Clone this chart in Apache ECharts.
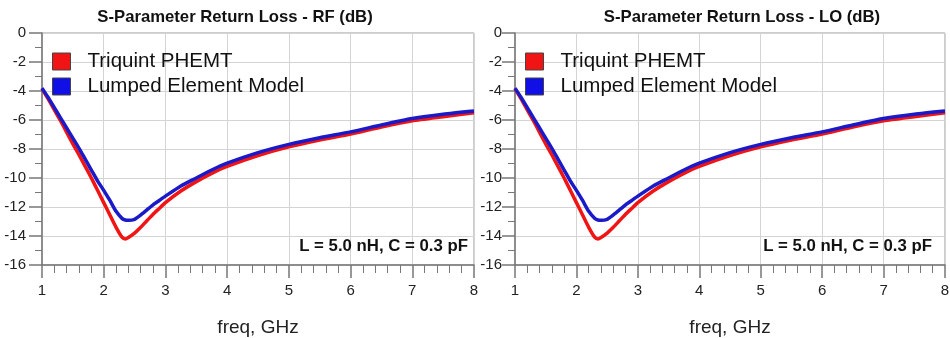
<!doctype html>
<html>
<head>
<meta charset="utf-8">
<title>S-Parameter Return Loss</title>
<script src="https://cdn.jsdelivr.net/npm/echarts@6/dist/echarts.min.js"></script>
<style>
html,body{margin:0;padding:0;background:#fff;}
#chart{width:950px;height:338px;}
</style>
</head>
<body>
<div id="chart"></div>
<script type="text/javascript">
// frequency points, GHz
var freq = [1.0, 1.1, 1.2, 1.3, 1.4, 1.5, 1.6, 1.7, 1.8, 1.9, 2.0, 2.1, 2.2, 2.3, 2.35, 2.4, 2.5, 2.6, 2.7, 2.8, 2.9, 3.0, 3.25, 3.5, 3.75, 4.0, 4.5, 5.0, 5.5, 6.0, 6.5, 7.0, 7.5, 8.0];
// return loss, dB
var triquint = [-3.84, -4.55, -5.3, -6.05, -6.85, -7.65, -8.4, -9.2, -10.0, -10.85, -11.7, -12.55, -13.4, -14.1, -14.2, -14.1, -13.8, -13.4, -12.95, -12.5, -12.1, -11.7, -10.9, -10.25, -9.68, -9.2, -8.45, -7.85, -7.38, -6.97, -6.48, -6.05, -5.77, -5.5];
var lumped = [-3.8, -4.45, -5.15, -5.85, -6.55, -7.25, -7.95, -8.7, -9.45, -10.2, -10.85, -11.55, -12.3, -12.8, -12.9, -12.92, -12.85, -12.55, -12.2, -11.85, -11.55, -11.25, -10.55, -10.0, -9.45, -8.98, -8.25, -7.68, -7.22, -6.82, -6.34, -5.9, -5.6, -5.38];
var seriesNames = ['Triquint PHEMT', 'Lumped Element Model'];
var panelTitles = ['S-Parameter Return Loss - RF (dB)', 'S-Parameter Return Loss - LO (dB)'];
var note = 'L = 5.0 nH, C = 0.3 pF';

function pairs(ys){
	var out = [];
	for(var i=0;i<freq.length;i++){
		out.push([freq[i], ys[i]]);
	}
	return out;
}

var grids = [
	{left:42, right:476, top:33, bottom:73},
	{left:515, right:5, top:33, bottom:73}
];
var titleX = [235, 742];
var noteRight = [482, 18];
var labelMargin = [16, 13];

var option = {
	backgroundColor:'#fff',
	animation:false,
	title:[],
	legend:[],
	grid:[],
	xAxis:[],
	yAxis:[],
	series:[]
};

for(var p=0;p<2;p++){
	var g = grids[p];
	option.grid.push({left:g.left, right:g.right, top:g.top, bottom:g.bottom,
		outerBoundsMode:'none', containLabel:false,
		show:true, borderColor:'#9a9a9a', borderWidth:1});
	option.title.push({
		text:panelTitles[p], left:titleX[p], top:9, textAlign:'center', padding:0,
		textStyle:{fontFamily:'Liberation Sans', fontSize:16.7, fontWeight:'bold', color:'#111'}
	});
	option.title.push({
		text:note, right:noteRight[p], top:238, padding:0,
		textStyle:{fontFamily:'Liberation Sans', fontSize:16.8, fontWeight:'bold', color:'#111'}
	});
	option.legend.push({
		data:seriesNames, orient:'vertical', left:g.left+10, top:51, padding:0,
		icon:'rect', itemWidth:18, itemHeight:17, itemGap:4,
		itemStyle:{borderColor:'#444', borderWidth:1},
		textStyle:{fontFamily:'Liberation Sans', fontSize:20.5, lineHeight:20, color:'#111', padding:[0,0,0,12]}
	});
	option.xAxis.push({
		type:'value', gridIndex:p, min:1, max:8, interval:1,
		name:'freq, GHz', nameLocation:'middle', nameGap:53,
		nameTextStyle:{fontFamily:'Liberation Sans', fontSize:19, color:'#222'},
		axisLine:{onZero:false, lineStyle:{color:'#777', width:1.5}},
		axisTick:{show:true, length:13, lineStyle:{color:'#777', width:1.5}},
		minorTick:{show:true, splitNumber:5, length:8, lineStyle:{color:'#777', width:1}},
		axisLabel:{margin:18, fontFamily:'Liberation Sans', fontSize:15, color:'#222'},
		splitLine:{show:true, lineStyle:{color:'#d4d4d4'}}
	});
	option.yAxis.push({
		type:'value', gridIndex:p, min:-16, max:0, interval:2,
		axisLine:{show:true, onZero:false, lineStyle:{color:'#777', width:1.5}},
		axisTick:{show:true, length:13, lineStyle:{color:'#777', width:1.5}},
		minorTick:{show:true, splitNumber:2, length:7, lineStyle:{color:'#777', width:1}},
		axisLabel:{margin:labelMargin[p], fontFamily:'Liberation Sans', fontSize:15, color:'#222'},
		splitLine:{show:true, lineStyle:{color:'#d4d4d4'}}
	});
	option.series.push({
		name:seriesNames[0], type:'line', xAxisIndex:p, yAxisIndex:p,
		data:pairs(triquint), showSymbol:false, smooth:0.2,
		lineStyle:{color:'#f01414', width:3.5}, itemStyle:{color:'#f01414'}
	});
	option.series.push({
		name:seriesNames[1], type:'line', xAxisIndex:p, yAxisIndex:p,
		data:pairs(lumped), showSymbol:false, smooth:0.2,
		lineStyle:{color:'#1a1ac8', width:3.5}, itemStyle:{color:'#1010e6'}
	});
}

echarts.init(document.getElementById('chart')).setOption(option);
</script>
</body>
</html>
